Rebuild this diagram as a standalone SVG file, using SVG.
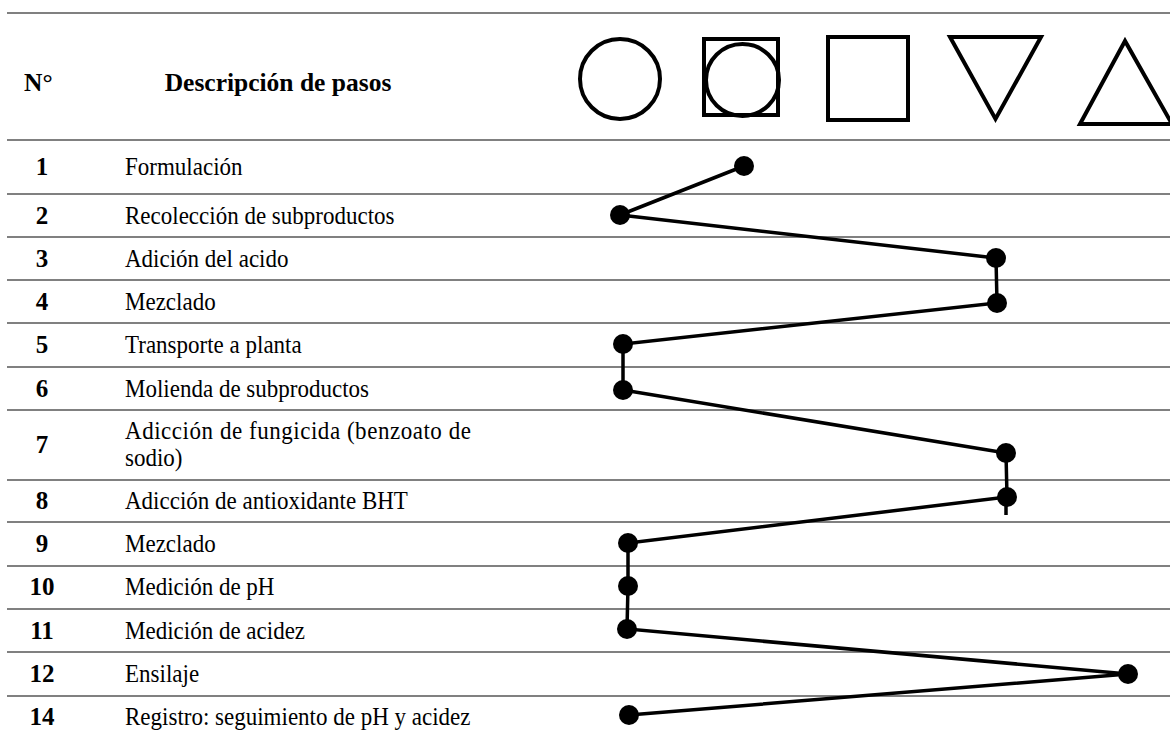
<svg xmlns="http://www.w3.org/2000/svg" width="1170" height="734" viewBox="0 0 1170 734">
<style>
.rule{stroke:#808080;stroke-width:2.2;fill:none}
.sym{stroke:#000;stroke-width:4;fill:none}
.num{font-family:"Liberation Serif","Times New Roman",serif;font-weight:bold;font-size:25px;fill:#000;text-anchor:middle}
.txt{font-family:"Liberation Serif","Times New Roman",serif;font-size:25px;fill:#000}
.hdr{font-family:"Liberation Serif","Times New Roman",serif;font-weight:bold;font-size:25.5px;fill:#000}
.con{stroke:#000;stroke-width:3.5;fill:none;stroke-linecap:butt}
.dot{fill:#000}
</style>
<rect width="1170" height="734" fill="#fff"/>
<g id="grid">
<line class="rule" x1="7" y1="13" x2="1170" y2="13"/>
<line class="rule" x1="7" y1="140" x2="1170" y2="140"/>
<line class="rule" x1="7" y1="194" x2="1170" y2="194"/>
<line class="rule" x1="7" y1="237" x2="1170" y2="237"/>
<line class="rule" x1="7" y1="280" x2="1170" y2="280"/>
<line class="rule" x1="7" y1="323" x2="1170" y2="323"/>
<line class="rule" x1="7" y1="367" x2="1170" y2="367"/>
<line class="rule" x1="7" y1="410" x2="1170" y2="410"/>
<line class="rule" x1="7" y1="480" x2="1170" y2="480"/>
<line class="rule" x1="7" y1="522" x2="1170" y2="522"/>
<line class="rule" x1="7" y1="566" x2="1170" y2="566"/>
<line class="rule" x1="7" y1="609" x2="1170" y2="609"/>
<line class="rule" x1="7" y1="652" x2="1170" y2="652"/>
<line class="rule" x1="7" y1="696" x2="1170" y2="696"/>
</g>
<g id="header">
<text class="hdr" x="24" y="91">N°</text>
<text class="hdr" x="278" y="91" text-anchor="middle">Descripción de pasos</text>
</g>
<g id="symbols">
<g id="sym-operation"><circle class="sym" cx="620" cy="79" r="40"/></g>
<g id="sym-combined"><rect class="sym" x="704" y="39" width="74" height="76"/><ellipse class="sym" cx="742.5" cy="80" rx="36.5" ry="36"/></g>
<g id="sym-inspection"><rect class="sym" x="828" y="37" width="80" height="83"/></g>
<g id="sym-storage"><polygon class="sym" points="950,37 1041,37 995.5,119"/></g>
<g id="sym-transport"><polygon class="sym" points="1125,41 1080,124 1172,124"/></g>
</g>
<g id="numbers">
<text class="num" x="42" y="175">1</text>
<text class="num" x="42" y="224">2</text>
<text class="num" x="42" y="267">3</text>
<text class="num" x="42" y="310">4</text>
<text class="num" x="42" y="353">5</text>
<text class="num" x="42" y="397">6</text>
<text class="num" x="42" y="453">7</text>
<text class="num" x="42" y="509">8</text>
<text class="num" x="42" y="552">9</text>
<text class="num" x="42" y="595">10</text>
<text class="num" x="42" y="639">11</text>
<text class="num" x="42" y="682">12</text>
<text class="num" x="42" y="725">14</text>
</g>
<g id="descriptions" transform="scale(0.92,1)">
<text class="txt" x="135.9" y="175">Formulación</text>
<text class="txt" x="135.9" y="224">Recolección de subproductos</text>
<text class="txt" x="135.9" y="267">Adición del acido</text>
<text class="txt" x="135.9" y="310">Mezclado</text>
<text class="txt" x="135.9" y="353">Transporte a planta</text>
<text class="txt" x="135.9" y="397">Molienda de subproductos</text>
<text class="txt" x="135.9" y="439" textLength="376" lengthAdjust="spacing">Adicción de fungicida (benzoato de</text>
<text class="txt" x="135.9" y="466">sodio)</text>
<text class="txt" x="135.9" y="509">Adicción de antioxidante BHT</text>
<text class="txt" x="135.9" y="552">Mezclado</text>
<text class="txt" x="135.9" y="595">Medición de pH</text>
<text class="txt" x="135.9" y="639">Medición de acidez</text>
<text class="txt" x="135.9" y="682">Ensilaje</text>
<text class="txt" x="135.9" y="725">Registro: seguimiento de pH y acidez</text>
</g>
<g id="connectors">
<polyline class="con" points="744,166 620,215 996,258 997,303 623,344 623,390 1006,453 1007,497 628,543 628,586 627,629 1128,674 629,715"/>
<line class="con" x1="1006" y1="497" x2="1006" y2="515"/>
</g>
<g id="points">
<circle class="dot" cx="744" cy="166" r="10"/>
<circle class="dot" cx="620" cy="215" r="10"/>
<circle class="dot" cx="996" cy="258" r="10"/>
<circle class="dot" cx="997" cy="303" r="10"/>
<circle class="dot" cx="623" cy="344" r="10"/>
<circle class="dot" cx="623" cy="390" r="10"/>
<circle class="dot" cx="1006" cy="453" r="10"/>
<circle class="dot" cx="1007" cy="497" r="10"/>
<circle class="dot" cx="628" cy="543" r="10"/>
<circle class="dot" cx="628" cy="586" r="10"/>
<circle class="dot" cx="627" cy="629" r="10"/>
<circle class="dot" cx="1128" cy="674" r="10"/>
<circle class="dot" cx="629" cy="715" r="10"/>
</g>
</svg>
